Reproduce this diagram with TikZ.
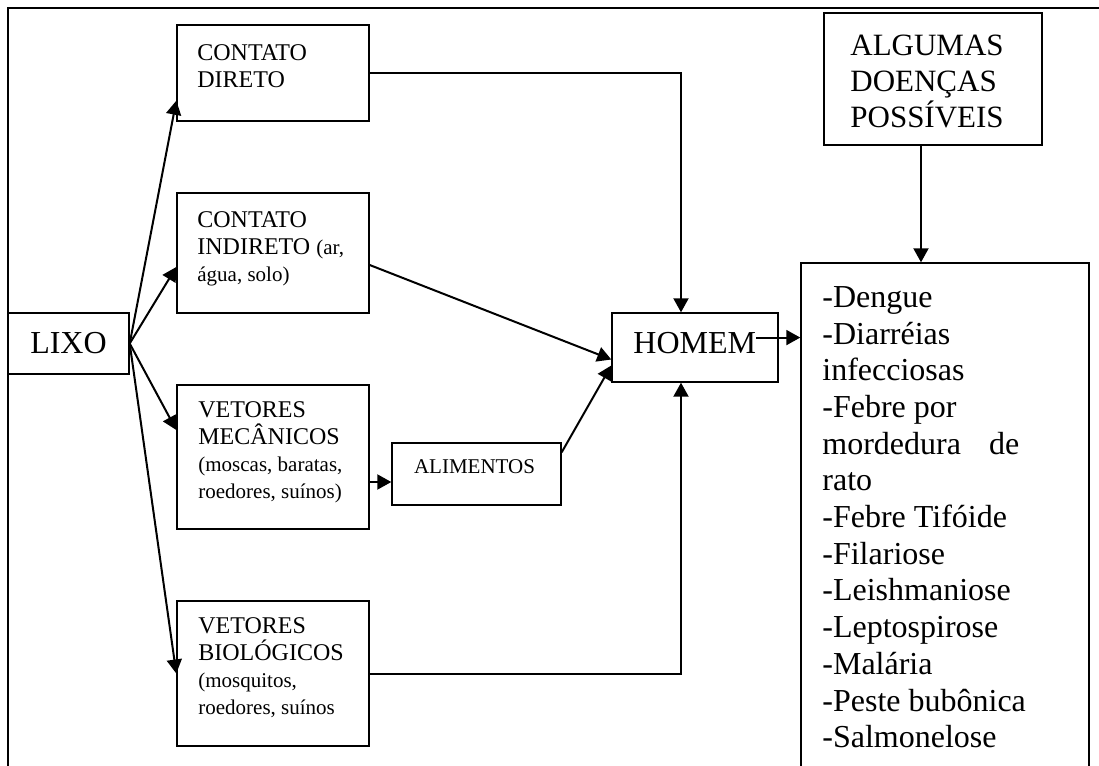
\documentclass[tikz,border=0pt]{standalone}
\usepackage{fontspec}
\setmainfont{Liberation Serif}
\usetikzlibrary{arrows.meta,calc,positioning}
\newcommand{\pequeno}{\fontsize{10.5}{13.5}\selectfont}
\newcommand{\grande}{\fontsize{16}{18.4}\selectfont}

\begin{document}
\begin{tikzpicture}[x=0.5pt,y=-0.5pt,
every node/.style={inner sep=0pt},
box/.style={draw,line width=0.7pt,rectangle},
txt/.style={anchor=north west,align=left,font=\fontsize{12}{13.5}\selectfont},
seta/.style={line width=1pt,-{Triangle[length=7pt,width=7.5pt]}}]
\useasboundingbox (0,0) rectangle (1099,766);
% moldura
\draw[line width=1.3pt] (8,800)--(8,8)--(1110,8);

\node[box,minimum width=60.5pt,minimum height=30.5pt,font=\grande] (lixo) at (68.5,343.5) {LIXO};
\node[box,minimum width=96pt,minimum height=48pt] (direto) at (273,73) {};
\node[box,minimum width=96pt,minimum height=60pt] (indireto) at (273,253) {};
\node[box,minimum width=96pt,minimum height=72pt] (mec) at (273,457) {};
\node[box,minimum width=96pt,minimum height=72.5pt] (bio) at (273,673.5) {};
\node[box,minimum width=84.5pt,minimum height=31pt] (alim) at (476.5,474) {};
\node[box,minimum width=83pt,minimum height=34.5pt] (homem) at (695,347.5) {};
\node[box,minimum width=109pt,minimum height=66pt] (algumas) at (933,79) {};
\node[box,minimum width=144pt,minimum height=268.5pt] (lista) at (945,531.5) {};

\node[txt] (diretot) at (197,44) {CONTATO\\DIRETO};
\node[txt] (indiretot) at (197,211) {CONTATO\\INDIRETO {\pequeno (ar,}\\{\pequeno água, solo)}};
\node[txt] (mect) at (198,401) {VETORES\\MECÂNICOS\\{\pequeno (moscas, baratas,}\\{\pequeno roedores, suínos)}};
\node[txt] (biot) at (198,617) {VETORES\\BIOLÓGICOS\\{\pequeno (mosquitos,}\\{\pequeno roedores, suínos}};
\node[anchor=base,font=\pequeno] (alimt) at (474.5,473) {ALIMENTOS};
\node[anchor=base west,font=\grande] (homemt) at (633,353) {HOMEM};
\node[txt,font=\fontsize{15.5}{18}\selectfont] (algumast) at (850,35) {ALGUMAS\\DOENÇAS\\POSSÍVEIS};
\node[txt,font=\fontsize{16}{18.35}\selectfont] (listat) at (822,286) {-Dengue\\-Diarréias\\infecciosas\\-Febre por\\mordedura\hspace{14pt}de\\rato\\-Febre Tifóide\\-Filariose\\-Leishmaniose\\-Leptospirose\\-Malária\\-Peste bubônica\\-Salmonelose};

% setas
\draw[seta] (lixo.east) -- ($(direto.south west)+(0,-21)$);
\draw[seta] (lixo.east) -- ($(indireto.west)+(0,14)$);
\draw[seta] (lixo.east) -- ($(mec.west)+(0,-27)$);
\draw[seta] (lixo.east) -- (bio.west);
\draw[seta] (direto.east) -| ($(homem.north)+(-14,0)$);
\draw[seta] ($(indireto.east)+(0,12)$) -- ($(homem.west)+(0,12)$);
\draw[seta] ($(mec.east)+(0,25)$) -- ($(alim.west)+(0,8)$);
\draw[seta] ($(alim.north east)+(0,10)$) -- ($(homem.west)+(0,18)$);
\draw[seta] (bio.east) -| ($(homem.south)+(-14,0)$);
\coordinate (hsai) at ($(homemt.east)+(0,-5)$);
\draw[seta] (hsai) -- (hsai -| lista.west);
\coordinate (asai) at ($(algumas.south)+(-12,0)$);
\draw[seta] (asai) -- (asai |- lista.north);
\end{tikzpicture}
\end{document}
